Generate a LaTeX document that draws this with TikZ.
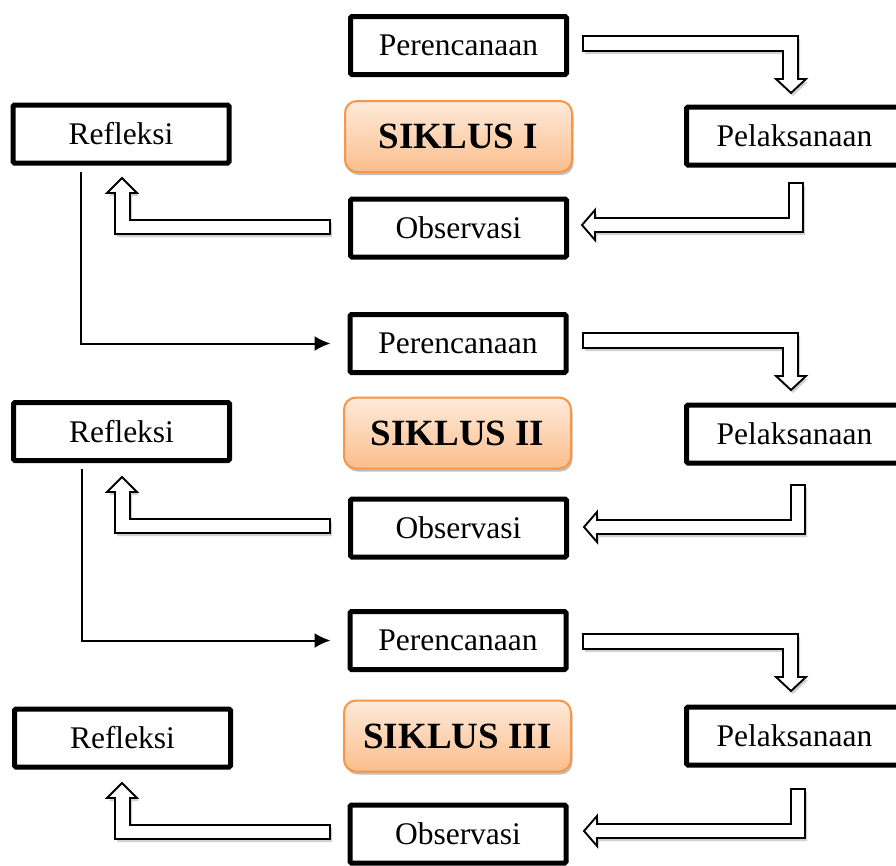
\documentclass[tikz,border=0pt]{standalone}
\usepackage{fontspec}
\setmainfont{Liberation Serif}
\usetikzlibrary{shadows,arrows.meta,calc}
\definecolor{sikborder}{RGB}{247,150,70}
\definecolor{siktop}{RGB}{254,234,218}
\definecolor{sikbot}{RGB}{251,190,140}
\tikzset{
  box/.style={draw=black, line width=5pt, fill=white, minimum width=216pt, minimum height=58pt,
    inner sep=0pt, rounded corners=1.5pt, font=\fontsize{31.5}{36}\selectfont},
  sik/.style={draw=sikborder, line width=2pt, top color=siktop, bottom color=sikbot,
    rounded corners=12pt, minimum width=227pt, minimum height=71pt, inner sep=0pt,
    font=\fontsize{37}{42}\selectfont\bfseries,
    drop shadow={shadow xshift=1.5pt, shadow yshift=-3pt, opacity=0.25, fill=black}},
  hollow/.style={draw=black, line width=1.9pt, fill=white, line join=miter,
    drop shadow={shadow xshift=2pt, shadow yshift=-3pt, opacity=0.18, fill=black}},
  conn/.style={line width=2pt, -{Latex[length=16pt,width=15pt]}},
}
\newcommand\toparrow[1]{%
  \begin{scope}[shift={(0,#1)}]
    \draw[hollow] (583,36) -- (798,36) -- (798,79) -- (806,79) -- (791,93) -- (776,79)
      -- (783,79) -- (783,51) -- (583,51) -- cycle;
  \end{scope}}
\newcommand\leftarrowshape[1]{%
  \begin{scope}[shift={(0,#1)}]
    \draw[hollow] (789,183) -- (803,183) -- (803,232) -- (595,232) -- (595,240) -- (582,225)
      -- (595,210) -- (595,218) -- (789,218) -- cycle;
  \end{scope}}
\newcommand\uparrowshape[1]{%
  \begin{scope}[shift={(0,#1)}]
    \draw[hollow] (330,220) -- (330,234) -- (115,234) -- (115,193) -- (107,193) -- (122,178)
      -- (137,193) -- (130,193) -- (130,220) -- cycle;
  \end{scope}}
\begin{document}
\begin{tikzpicture}[x=1pt,y=-1pt]
\useasboundingbox (0,0) rectangle (896,865);
\fill[white] (0,0) rectangle (896,865);

% cycle I
\node[box] (per1) at (458.5,45.5) {Perencanaan};
\node[box] (ref1) at (121,134) {Refleksi};
\node[sik] (sik1) at (458.5,136.5) {SIKLUS I};
\node[box] (pel1) at (794.5,136) {Pelaksanaan};
\node[box] (obs1) at (458.5,228) {Observasi};

% cycle II
\node[box] (per2) at (458,343.5) {Perencanaan};
\node[box] (ref2) at (121.5,431.5) {Refleksi};
\node[sik] (sik2) at (457.5,433) {SIKLUS II};
\node[box] (pel2) at (794.5,434) {Pelaksanaan};
\node[box] (obs2) at (458.5,528) {Observasi};

% cycle III
\node[box] (per3) at (458,640.5) {Perencanaan};
\node[box] (ref3) at (122.5,738) {Refleksi};
\node[sik] (sik3) at (457.5,736) {SIKLUS III};
\node[box] (pel3) at (794.5,736) {Pelaksanaan};
\node[box] (obs3) at (458,834) {Observasi};

% hollow arrows
\toparrow{0}
\toparrow{297}
\toparrow{598}
\leftarrowshape{0}
\begin{scope}[shift={(2,0)}]\leftarrowshape{302}\end{scope}
\begin{scope}[shift={(2,0)}]\leftarrowshape{606}\end{scope}
\uparrowshape{0}
\uparrowshape{299}
\uparrowshape{605}

% connectors between cycles
\coordinate (c1) at (81,172);
\coordinate (c2) at (82,469);
\draw[conn, shorten >=17pt] (c1) |- (per2.west);
\draw[conn, shorten >=17pt] (c2) |- (per3.west);
\end{tikzpicture}
\end{document}
